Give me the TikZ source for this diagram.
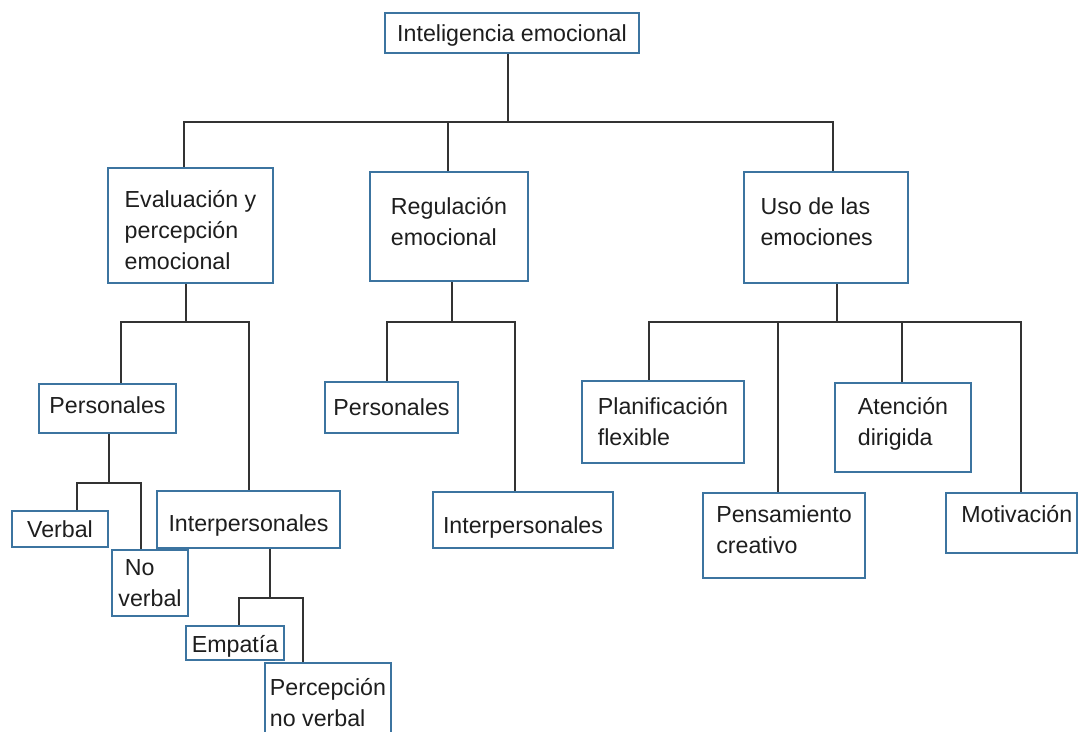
\documentclass[tikz,border=0pt]{standalone}
\usepackage{fontspec}
\setmainfont{Liberation Sans}
\definecolor{boxblue}{HTML}{3C74A0}
\definecolor{linec}{HTML}{333333}
\definecolor{txt}{HTML}{1E1E1E}
\newcommand{\lowpad}[1]{\rule[-#1]{0pt}{#1}}
\newcommand{\toppad}[1]{\rule{0pt}{#1}}
\begin{document}
\begin{tikzpicture}[x=0.75pt,y=-0.75pt,
  font=\fontsize{17.4}{23.25}\selectfont,
  bx/.style 2 args={draw=boxblue, line width=2pt, fill=white, inner sep=0pt,
    align=left, text=txt, minimum width=#1*0.75pt, minimum height=#2*0.75pt},
  conn/.style={draw=linec, line width=1.5pt}]
\useasboundingbox (0,0) rectangle (1080,731);
\clip (0,0) rectangle (1080,731);
\fill[white] (0,0) rectangle (1080,731);

% boxes
\node[bx={254}{40}] (top) at (512,33) {\toppad{15.7pt}Inteligencia emocional};
\node[bx={165}{115}] (eval) at (190.5,225.5) {\toppad{19pt}Evaluación y\\percepción\\emocional};
\node[bx={158}{109}] (reg) at (449,226.5) {Regulación\\emocional\lowpad{7pt}};
\node[bx={164}{111}] (uso) at (826,227.5) {Uso de las\\emociones\hspace*{14pt}\lowpad{9pt}};
\node[bx={137}{49}] (pers1) at (107.5,408.5) {Personales\lowpad{5pt}};
\node[bx={183}{57}] (inter1) at (248.5,519.5) {\toppad{21.7pt}Interpersonales};
\node[bx={96}{36}] (verbal) at (60,529) {Verbal};
\node[bx={76}{66}] (noverbal) at (150,583) {\hspace*{4.9pt}No\\verbal};
\node[bx={98}{34}] (empatia) at (235,643) {\toppad{17.2pt}Empatía};
\node[bx={126}{79}] (percep) at (328,702.5) {Percepción\\no verbal};
\node[bx={133}{51}] (pers2) at (391.5,407.5) {Personales};
\node[bx={180}{56}] (inter2) at (523,520) {\toppad{23.2pt}Interpersonales};
\node[bx={162}{82}] (plan) at (663,422) {Planificación\\flexible};
\node[bx={162}{85}] (pens) at (784,535.5) {Pensamiento\\creativo\lowpad{9pt}};
\node[bx={136}{89}] (aten) at (903,427.5) {Atención\\dirigida\lowpad{8.5pt}};
\node[bx={131}{60}] (motiv) at (1011.5,523) {\hspace*{8pt}Motivación\lowpad{14pt}};

% junctions
\coordinate (j0) at (508,122);
\coordinate (j0l) at (184,122);
\coordinate (j0m) at (448,122);
\coordinate (j0r) at (833,122);
\coordinate (j1) at (186,322);
\coordinate (j1l) at (121,322);
\coordinate (j1r) at (249,322);
\coordinate (j2) at (109,483);
\coordinate (j2l) at (77,483);
\coordinate (j2r) at (141,483);
\coordinate (j3) at (270,598);
\coordinate (j3l) at (239,598);
\coordinate (j3r) at (303,598);
\coordinate (j4) at (452,322);
\coordinate (j4l) at (387,322);
\coordinate (j4r) at (515,322);
\coordinate (j5) at (837,322);
\coordinate (j5l) at (649,322);
\coordinate (j5a) at (778,322);
\coordinate (j5b) at (902,322);
\coordinate (j5r) at (1021,322);

% connectors
\draw[conn] (top.south -| j0) -- (j0);
\draw[conn] (eval.north -| j0l) |- (j0r) -- (uso.north -| j0r);
\draw[conn] (j0m) -- (reg.north -| j0m);

\draw[conn] (eval.south -| j1) -- (j1);
\draw[conn] (pers1.north -| j1l) |- (j1r) -- (inter1.north -| j1r);

\draw[conn] (pers1.south -| j2) -- (j2);
\draw[conn] (verbal.north -| j2l) |- (j2r) -- (noverbal.north -| j2r);

\draw[conn] (inter1.south -| j3) -- (j3);
\draw[conn] (empatia.north -| j3l) |- (j3r) -- (percep.north -| j3r);

\draw[conn] (reg.south -| j4) -- (j4);
\draw[conn] (pers2.north -| j4l) |- (j4r) -- (inter2.north -| j4r);

\draw[conn] (uso.south -| j5) -- (j5);
\draw[conn] (plan.north -| j5l) |- (j5r) -- (motiv.north -| j5r);
\draw[conn] (j5a) -- (pens.north -| j5a);
\draw[conn] (j5b) -- (aten.north -| j5b);
\end{tikzpicture}
\end{document}
